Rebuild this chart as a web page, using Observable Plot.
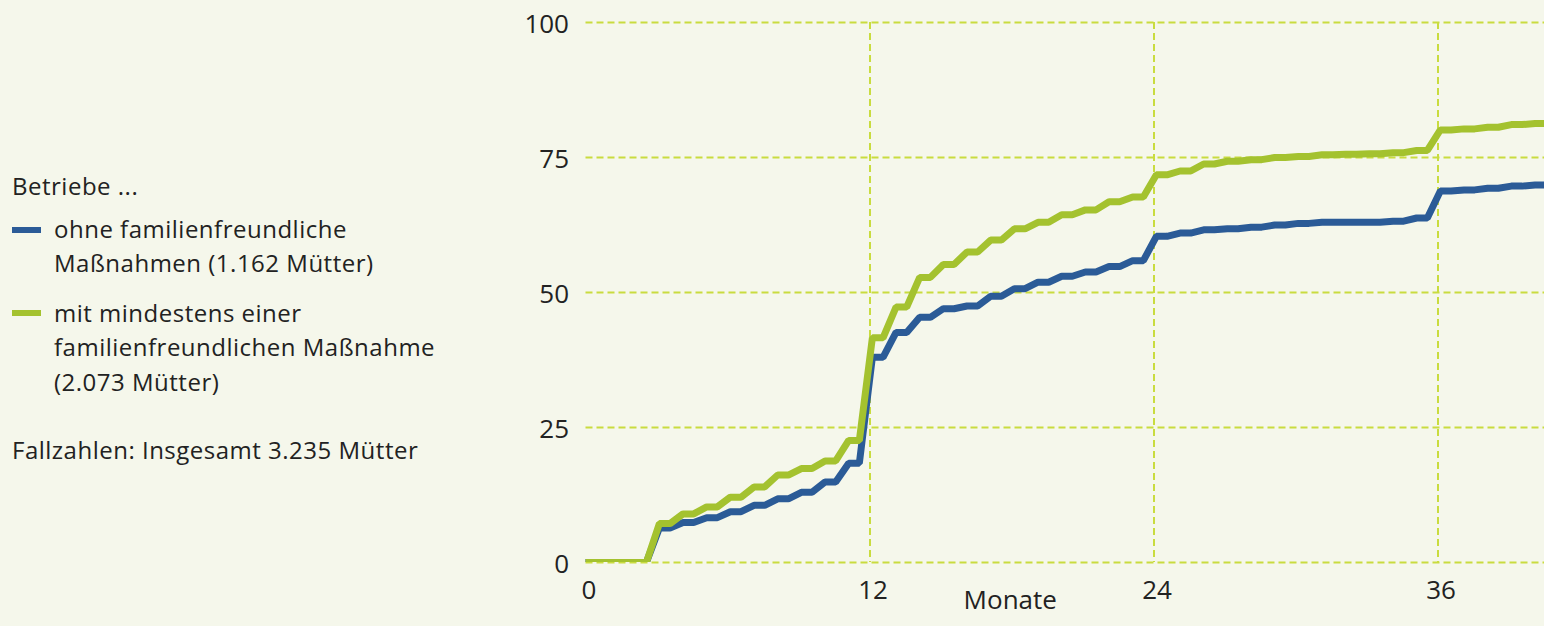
<!DOCTYPE html>
<html><head><meta charset="utf-8">
<script src="https://cdn.jsdelivr.net/npm/d3@7"></script>
<script src="https://cdn.jsdelivr.net/npm/@observablehq/plot@0.6"></script>
<style>
html,body{margin:0;padding:0;background:#f5f7eb;}
#wrap{position:relative;width:1544px;height:626px;overflow:hidden;background:#f5f7eb;}
#chart{position:absolute;left:0;top:0;}
.lg{position:absolute;left:12px;font-family:"Open Sans",sans-serif;font-size:24px;line-height:34.5px;color:#222;white-space:nowrap;letter-spacing:0.5px;}
.sw{position:absolute;left:12px;width:29px;height:6px;}
</style>
</head><body>
<div id="wrap">
  <div id="chart"></div>
  <div id="legend"></div>
</div>
<script>
// ---- data (Anteil in %, nach Monaten) ----
const months = [0,1,2,3,4,5,6,7,8,9,10,11,12,13,14,15,16,17,18,19,20,21,22,23,24,25,26,27,28,29,30,31,32,33,34,35,36,37,38,39,40,41];
const ohne = [0,0,0,6.4,7.4,8.3,9.4,10.6,11.8,13.0,14.9,18.4,38.0,42.6,45.4,47.0,47.5,49.3,50.7,51.9,53.0,53.8,54.8,55.9,60.4,61.0,61.6,61.8,62.1,62.5,62.8,63.0,63.0,63.0,63.2,63.8,68.8,69.0,69.3,69.7,69.9,69.9];
const mit  = [0,0,0,7.2,9.0,10.3,12.1,14.0,16.2,17.4,18.8,22.6,41.6,47.3,52.8,55.2,57.5,59.7,61.8,63.0,64.4,65.3,66.8,67.7,71.8,72.5,73.8,74.3,74.6,75.0,75.2,75.5,75.6,75.7,75.9,76.3,80.1,80.3,80.6,81.1,81.3,81.4];
const seriesKeys = ["ohne", "mit"];
const seriesColors = ["#2b5b97", "#a4c22f"];
const legendTitle = "Betriebe ...";
const legendLabels = [["ohne familienfreundliche", "Maßnahmen (1.162 Mütter)"], ["mit mindestens einer", "familienfreundlichen Maßnahme", "(2.073 Mütter)"]];
const caption = "Fallzahlen: Insgesamt 3.235 Mütter";
const yTicks = [0, 25, 50, 75, 100];
const xTicks = [0, 12, 24, 36];
const xLabel = "Monate";

// ---- curve: flat plateau then ramp to next point ----
const S = 0.1, F = 0.45;
function flatRamp(context) {
  return {
    areaStart() {}, areaEnd() {},
    lineStart() { this._n = 0; },
    lineEnd() {},
    point(x, y) {
      x = +x; y = +y;
      if (this._n === 0) { context.moveTo(x, y); }
      else {
        const dx = x - this._x;
        context.lineTo(this._x + (S + F) * dx, this._y);
        context.lineTo(x + S * dx, y);
      }
      this._x = x; this._y = y; this._n++;
    }
  };
}

const rowsOhne = months.map((m, i) => ({m, v: ohne[i], s: seriesKeys[0]}));
const rowsMit = months.map((m, i) => ({m, v: mit[i], s: seriesKeys[1]}));

const grid = {stroke: "#c9dc3f", strokeOpacity: 1, strokeWidth: 2, strokeDasharray: "7,4"};
const plot = Plot.plot({
  width: 1544, height: 626,
  marginLeft: 585.5, marginRight: 0, marginTop: 22, marginBottom: 64,
  style: {background: "transparent", fontFamily: "Open Sans, sans-serif", color: "#222", overflow: "visible"},
  x: {domain: [0, 40.5]},
  y: {domain: [0, 100]},
  marks: [
    Plot.gridY(yTicks, grid),
    Plot.gridX(xTicks.filter(t => t > 0), grid),
    Plot.axisY(yTicks, {tickSize: 0, tickPadding: 17, fontSize: 26, label: null, dy: 2}),
    Plot.axisX(xTicks, {tickSize: 0, tickPadding: 18, fontSize: 26, label: null, dx: 3}),
    Plot.line(rowsOhne, {x: "m", y: "v", stroke: seriesColors[0], strokeWidth: 7, strokeLinejoin: "miter", curve: flatRamp, clip: "frame"}),
    Plot.line(rowsMit, {x: "m", y: "v", stroke: seriesColors[1], strokeWidth: 7, strokeLinejoin: "miter", curve: flatRamp, clip: "frame"}),
    Plot.text([xLabel], {text: d => d, frameAnchor: "bottom", dy: 46, dx: -55, fontSize: 26, fill: "#222"})
  ]
});
document.getElementById("chart").appendChild(plot);

// ---- legend (HTML) ----
const lg = document.getElementById("legend");
function addText(lines, centerY, left) {
  const d = document.createElement("div");
  d.className = "lg";
  d.style.top = (centerY - 17.25) + "px";
  d.style.left = left + "px";
  d.innerHTML = lines.map(t => t.replace(/&/g,"&amp;")).join("<br>");
  lg.appendChild(d);
}
function addSwatch(color, centerY) {
  const s = document.createElement("div");
  s.className = "sw";
  s.style.background = color;
  s.style.top = (centerY - 3) + "px";
  lg.appendChild(s);
}
addText([legendTitle], 186, 12);
addSwatch(seriesColors[0], 230);
addText(legendLabels[0], 229, 54);
addSwatch(seriesColors[1], 313);
addText(legendLabels[1], 313, 54);
addText([caption], 450, 12);
</script>
</body></html>
